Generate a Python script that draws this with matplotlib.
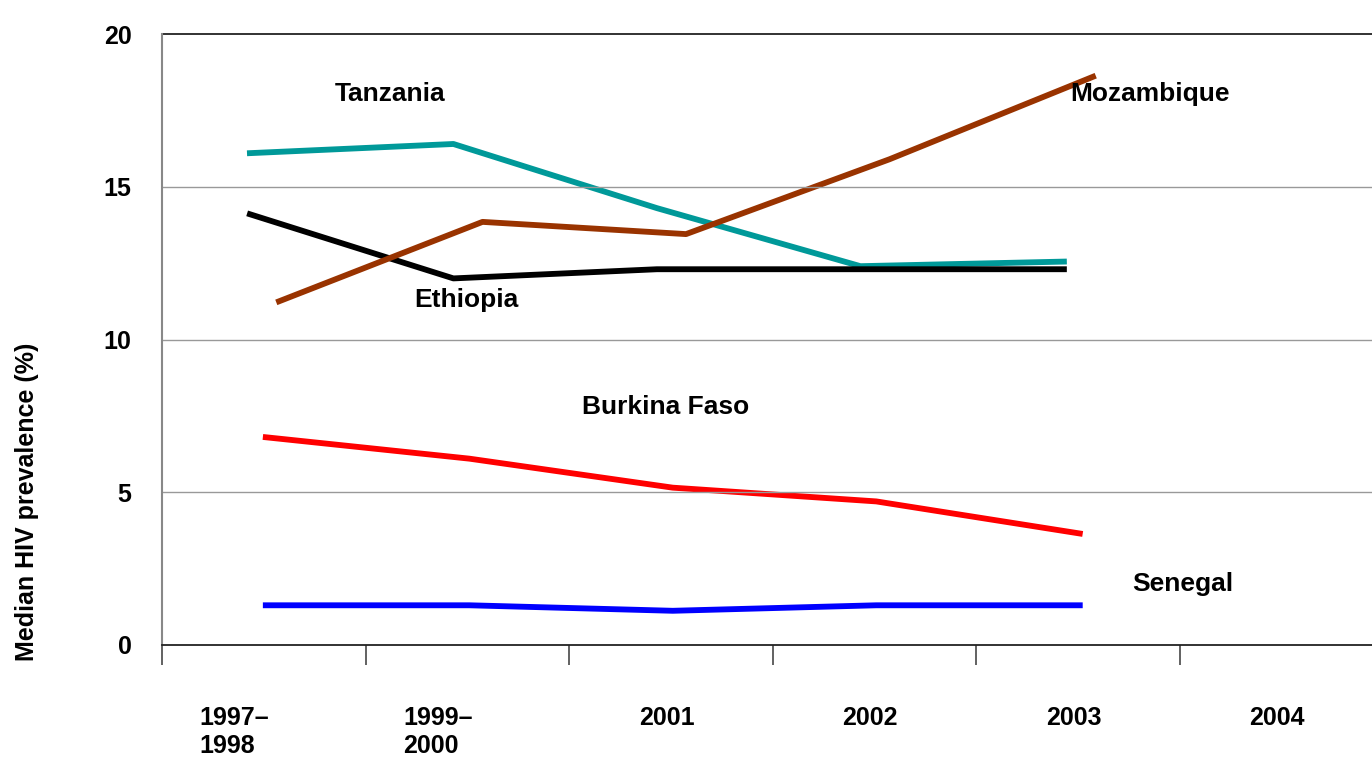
import matplotlib.pyplot as plt

# categories and series
periods = ['1997\u2013\n1998', '1999\u2013\n2000', '2001', '2002', '2003', '2004']
tanzania = [16.1, 16.4, 14.3, 12.4, 12.55]
ethiopia = [14.1, 12.0, 12.3, 12.3, 12.3]
mozambique = [11.25, 13.85, 13.45, 15.9, 18.6]
burkina = [6.8, 6.1, 5.15, 4.7, 3.65]
senegal = [1.3, 1.3, 1.12, 1.3, 1.3]

plt.rcParams['font.family'] = ['Liberation Sans', 'DejaVu Sans']
plt.rcParams['font.weight'] = 'bold'

fig = plt.figure(figsize=(13.72, 7.6), dpi=100)
ax = fig.add_axes([162 / 1372, 115 / 760, 1221 / 1372, 611 / 760])

n = len(tanzania)
idx = list(range(n))
lw = 4.2

# each series is nudged a little within its category, as in the original
ax.plot([i + 0.432 for i in idx], tanzania, color='#009999', lw=lw)
ax.plot([i + 0.432 for i in idx], ethiopia, color='black', lw=lw)
ax.plot([i + 0.575 for i in idx], mozambique, color='#993300', lw=lw)
ax.plot([i + 0.51 for i in idx], burkina, color='#ff0000', lw=lw)
ax.plot([i + 0.51 for i in idx], senegal, color='#0000ff', lw=lw)

# series names
lab = dict(fontsize=19, fontweight='bold', ha='center', va='center')
ax.text(1.12, 18.05, 'Tanzania', **lab)
ax.text(4.855, 18.05, 'Mozambique', **lab)
ax.text(1.494, 11.3, 'Ethiopia', **lab)
ax.text(2.477, 7.8, 'Burkina Faso', **lab)
ax.text(5.017, 2.0, 'Senegal', **lab)

ax.set_xlim(0, 6)
ax.set_ylim(0, 20)
ax.set_yticks([0, 5, 10, 15, 20])
ax.set_yticklabels(['0', '5', '10', '15', '20'], fontsize=18, fontweight='bold')
ax.tick_params(axis='y', length=0, pad=22)
for yv in [5, 10, 15]:
    ax.axhline(yv, color='#999999', lw=1)
ax.axhline(20, color='#222222', lw=1.3, clip_on=False)

ax.set_xticks(range(7))
ax.set_xticklabels([])
ax.tick_params(axis='x', length=14.5, width=1.3, color='#555555', direction='out')

for s in ['top', 'right']:
    ax.spines[s].set_visible(False)
ax.spines['left'].set_color('#888888')
ax.spines['left'].set_linewidth(1.5)
ax.spines['bottom'].set_color('#222222')
ax.spines['bottom'].set_linewidth(1.3)

# category labels under the axis
for i, p in enumerate(periods):
    if '\n' in p:
        ax.text(i + 0.185, -2.0, p, ha='left', va='top', fontsize=18,
                fontweight='bold', linespacing=1.2, clip_on=False)
    else:
        ax.text(i + 0.48, -2.0, p, ha='center', va='top', fontsize=18,
                fontweight='bold', clip_on=False)

fig.text(27 / 1372, 1 - 502 / 760, 'Median HIV prevalence (%)', rotation=90,
         ha='center', va='center', fontsize=18, fontweight='bold')

fig.savefig('out.png', dpi=100)
